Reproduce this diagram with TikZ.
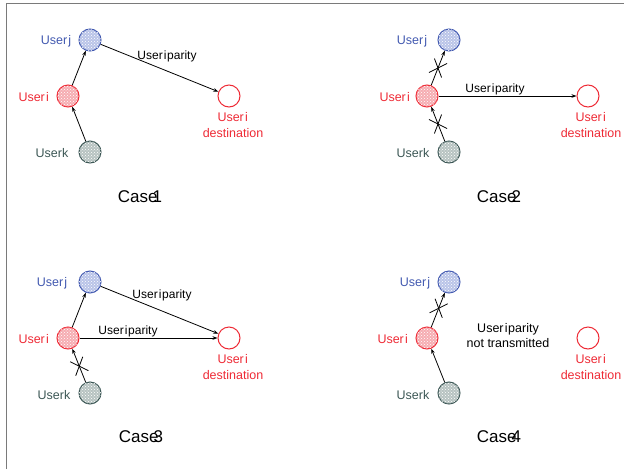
\documentclass[tikz,border=0pt]{standalone}
\usepackage{fontspec}
\setmainfont{Liberation Sans}
\usetikzlibrary{arrows.meta,calc,patterns}
\definecolor{jblue}{HTML}{4259B0}
\definecolor{jfill}{HTML}{B9C4E8}
\definecolor{ired}{HTML}{EE2A35}
\definecolor{ifill}{HTML}{F6ADB2}
\definecolor{kgray}{HTML}{3C5755}
\definecolor{kfill}{HTML}{B7C3C1}
\definecolor{framegray}{HTML}{7A7A7A}
\newcommand{\usri}{User\kern1.2pt i\kern0.6pt}
\tikzset{
  user/.style={circle,minimum size=22pt,inner sep=0pt,line width=1pt},
  uj/.style={user,draw=jblue,fill=jfill,postaction={pattern=crosshatch dots,pattern color=white}},
  ui/.style={user,draw=ired,fill=ifill,postaction={pattern=crosshatch dots,pattern color=white}},
  uk/.style={user,draw=kgray,fill=kfill,postaction={pattern=crosshatch dots,pattern color=white}},
  udest/.style={user,draw=ired,fill=white},
  lab/.style={inner sep=0pt,font=\fontsize{12.5}{14}\selectfont},
  labj/.style={lab,text=jblue},
  labi/.style={lab,text=ired},
  labk/.style={lab,text=kgray},
  labd/.style={lab,text=ired,align=center,font=\fontsize{12.5}{15.5}\selectfont},
  par/.style={inner sep=0pt,font=\fontsize{12}{15}\selectfont},
  casel/.style={inner sep=0pt,font=\fontsize{17}{20}\selectfont},
  link/.style={line width=0.8pt,-{Stealth[length=5pt,width=3.6pt]}},
  xmark/.pic={\draw[line width=0.8pt,-] (-7.5,-6.8) -- (7.5,6.8) (-7.5,6.8) -- (7.5,-6.8);}
}
\begin{document}
\begin{tikzpicture}[x=1pt,y=-1pt]
\useasboundingbox (0,0) rectangle (624,469);
% frame
\draw[framegray,line width=1.6pt] (6.5,469) -- (6.5,3.6) -- (624,3.6);

% ---------- Case 1 ----------
\node[uj] (j1) at (90,40) {};
\node[ui] (i1) at (68,96) {};
\node[uk] (k1) at (90,152) {};
\node[udest] (d1) at (229,96) {};
\node[labj] (lj1) at (56,41) {User\kern1.2pt j};
\node[labi] (li1) at (34,97) {\usri};
\node[labk] (lk1) at (52,153) {Userk};
\node[labd] (ld1) at (233,125) {\usri\\destination};
\draw[link] (k1) -- (i1);
\draw[link] (i1) -- (j1);
\draw[link] (j1) -- (d1);
\node[par] (p1) at (167,56) {\usri parity};
\node[casel] (c1) at (140,197) {Case\kern-5pt 1};

% ---------- Case 2 ----------
\node[uj] (j2) at (449,40) {};
\node[ui] (i2) at (427,96) {};
\node[uk] (k2) at (449,152) {};
\node[udest] (d2) at (588,96) {};
\node[labj] (lj2) at (412,41) {User\kern1.2pt j};
\node[labi] (li2) at (395,97) {\usri};
\node[labk] (lk2) at (413,153) {Userk};
\node[labd] (ld2) at (591,125) {\usri\\destination};
\draw[link] (k2) -- (i2);
\draw[link] (i2) -- (j2);
\draw[link] (i2) -- (d2);
\path (i2) -- (j2) pic[pos=0.5,sloped]{xmark};
\path (k2) -- (i2) pic[pos=0.5,sloped]{xmark};
\node[par] (p2) at (495,89) {\usri parity};
\node[casel] (c2) at (499,197) {Case\kern-5pt 2};

% ---------- Case 3 ----------
\node[uj] (j3) at (90,282) {};
\node[ui] (i3) at (68,338) {};
\node[uk] (k3) at (90,393) {};
\node[udest] (d3) at (229,338) {};
\node[labj] (lj3) at (52,283) {User\kern1.2pt j};
\node[labi] (li3) at (34,339) {\usri};
\node[labk] (lk3) at (54,395) {Userk};
\node[labd] (ld3) at (233,367) {\usri\\destination};
\draw[link] (k3) -- (i3);
\draw[link] (i3) -- (j3);
\draw[link] (j3) -- (d3);
\draw[link] (i3) -- (d3);
\path (k3) -- (i3) pic[pos=0.48,sloped]{xmark};
\node[par] (p3a) at (162,295) {\usri parity};
\node[par] (p3b) at (128,331) {\usri parity};
\node[casel] (c3) at (141,437) {Case\kern-5pt 3};

% ---------- Case 4 ----------
\node[uj] (j4) at (449,282) {};
\node[ui] (i4) at (427,338) {};
\node[uk] (k4) at (449,393) {};
\node[udest] (d4) at (588,338) {};
\node[labj] (lj4) at (415,283) {User\kern1.2pt j};
\node[labi] (li4) at (393,339) {\usri};
\node[labk] (lk4) at (413,395) {Userk};
\node[labd] (ld4) at (591,367) {\usri\\destination};
\draw[link] (k4) -- (i4);
\draw[link] (i4) -- (j4);
\path (i4) -- (j4) pic[pos=0.55,sloped]{xmark};
\node[par,align=center,font=\fontsize{12.5}{15}\selectfont] (p4) at (508,336) {\usri parity\\not transmitted};
\node[casel] (c4) at (499,437) {Case\kern-5pt 4};
\end{tikzpicture}
\end{document}
